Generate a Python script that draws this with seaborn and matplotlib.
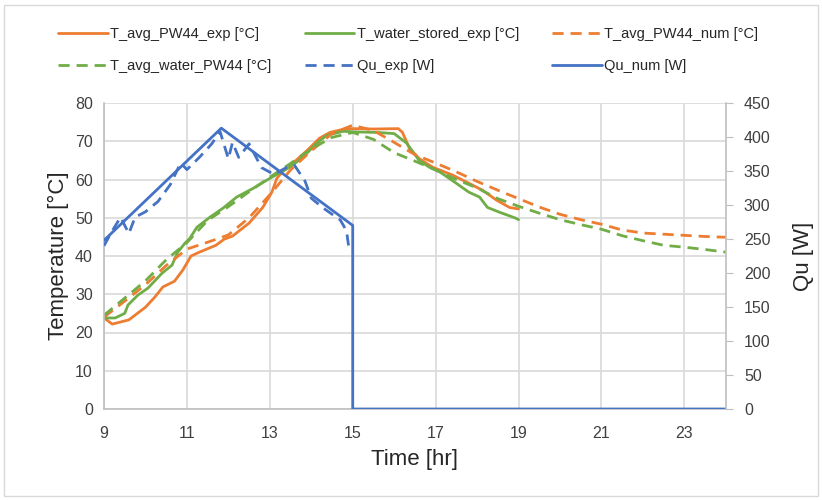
import matplotlib
matplotlib.use('Agg')
import matplotlib.pyplot as plt
import seaborn as sns
from matplotlib.patches import Rectangle

# measured series (hours, deg C)
time_pw44_exp = [9.0, 9.2, 9.6, 10.0, 10.23, 10.42, 10.7, 10.9, 11.1, 11.3, 11.7, 11.9,
                 12.1, 12.5, 12.83, 13.05, 13.17, 13.3, 13.55, 13.9, 14.2, 14.45, 14.76,
                 15.0, 15.5, 16.1, 16.2, 16.37, 16.6, 16.93, 17.4, 17.75, 18.13, 18.47,
                 18.78, 19.0]
t_avg_pw44_exp = [23.8, 22.2, 23.3, 26.6, 29.3, 31.9, 33.4, 36.3, 40.0, 41.0, 42.8, 44.4,
                  45.2, 48.6, 52.7, 56.7, 60.3, 62.0, 64.2, 67.6, 70.8, 72.3, 73.1,
                  73.3, 73.2, 73.3, 72.3, 68.1, 65.5, 63.2, 61.2, 59.3, 57.2, 54.6,
                  52.7, 52.3]

time_water_exp = [9.0, 9.27, 9.5, 9.58, 9.82, 10.06, 10.4, 10.64, 10.78, 10.95, 11.07,
                  11.24, 11.55, 11.87, 12.2, 12.6, 13.0, 13.48, 13.8, 14.13, 14.37, 14.76,
                  15.2, 15.6, 16.0, 16.3, 16.6, 16.85, 17.1, 17.5, 17.8, 18.06, 18.25,
                  18.55, 18.73, 18.93, 19.0]
t_water_stored_exp = [23.8, 23.8, 25.0, 27.2, 29.8, 31.6, 35.5, 37.6, 41.0, 43.3, 44.6,
                      47.5, 50.1, 52.5, 55.4, 57.7, 60.3, 63.2, 65.8, 69.5, 71.5, 72.6,
                      72.4, 72.3, 72.0, 69.5, 65.0, 63.2, 62.0, 59.0, 56.7, 55.4, 52.7,
                      51.4, 50.7, 49.9, 49.5]

# numerical series (half-hour steps)
time_num = [9.0, 9.5, 10.0, 10.5, 11.0, 11.5, 12.0, 12.5, 13.0, 13.5, 14.0, 14.5, 15.0,
            15.5, 16.0, 16.5, 17.0, 17.5, 18.0, 18.5, 19.0, 19.5, 20.0, 20.5, 21.0,
            21.5, 22.0, 22.5, 23.0, 23.5, 24.0]
t_avg_pw44_num = [24.0, 28.2, 32.5, 37.5, 41.8, 43.6, 45.5, 50.0, 56.0, 62.5, 67.5, 72.0,
                  74.2, 72.8, 69.7, 66.5, 64.3, 62.0, 59.5, 57.2, 55.0, 52.8, 50.9, 49.5,
                  48.3, 46.8, 46.0, 45.7, 45.4, 45.1, 44.9]
t_avg_water_pw44 = [24.5, 29.0, 33.5, 39.0, 43.5, 49.3, 52.9, 56.8, 60.6, 64.2, 68.0, 71.0,
                    72.3, 70.5, 67.0, 64.8, 62.5, 60.0, 57.8, 55.0, 53.0, 51.2, 49.5, 48.2,
                    47.0, 45.3, 44.0, 42.8, 42.3, 41.7, 41.0]

# useful heat (W)
time_qu_exp = [9.0, 9.2, 9.4, 9.6, 9.75, 10.0, 10.3, 10.6, 10.85, 11.0, 11.3, 11.6, 11.8,
               12.0, 12.1, 12.25, 12.5, 12.8, 13.1, 13.4, 13.6, 13.85, 14.0, 14.3, 14.7,
               14.85, 14.9]
qu_exp = [240, 262, 282, 258, 282, 290, 305, 330, 362, 352, 370, 390, 408,
          368, 392, 370, 390, 355, 345, 355, 358, 335, 310, 295, 278,
          262, 240]

time_qu_num = [9.0, 11.83, 15.0, 15.0, 24.0]
qu_num = [248, 413, 270, 0, 0]

ORANGE = '#ED7D31'
GREEN = '#70AD47'
BLUE = '#4472C4'
GRID = '#D9D9D9'
DASH = (0, (4, 2.5))

sns.set_style('white')
plt.rcParams['font.family'] = ['Liberation Sans', 'DejaVu Sans']

fig = plt.figure(figsize=(8.22, 5.0), dpi=100)
ax = fig.add_axes([0.1265, 0.182, 0.7565, 0.612])
ax2 = ax.twinx()

lw = 2.0
sns.lineplot(x=time_pw44_exp, y=t_avg_pw44_exp, ax=ax, color=ORANGE, lw=lw,
             estimator=None, sort=False, label='T_avg_PW44_exp [°C]')
sns.lineplot(x=time_water_exp, y=t_water_stored_exp, ax=ax, color=GREEN, lw=lw,
             estimator=None, sort=False, label='T_water_stored_exp [°C]')
sns.lineplot(x=time_num, y=t_avg_pw44_num, ax=ax, color=ORANGE, lw=lw, linestyle=DASH,
             estimator=None, sort=False, label='T_avg_PW44_num [°C]')
sns.lineplot(x=time_num, y=t_avg_water_pw44, ax=ax, color=GREEN, lw=lw, linestyle=DASH,
             estimator=None, sort=False, label='T_avg_water_PW44 [°C]')
sns.lineplot(x=time_qu_exp, y=qu_exp, ax=ax2, color=BLUE, lw=lw, linestyle=DASH,
             estimator=None, sort=False, label='Qu_exp [W]')
sns.lineplot(x=time_qu_num, y=qu_num, ax=ax2, color=BLUE, lw=lw,
             estimator=None, sort=False, label='Qu_num [W]')

ax.set_xlim(9, 24)
ax.set_ylim(0, 80)
ax2.set_ylim(0, 450)
ax.set_xticks(range(9, 24, 2))
ax.set_yticks(range(0, 81, 10))
ax2.set_yticks(range(0, 451, 50))

ax.grid(True, color=GRID, lw=1.2)
ax.set_axisbelow(True)
for a in (ax, ax2):
    for s in a.spines.values():
        s.set_visible(False)
ax.spines['left'].set_visible(True)
ax.spines['bottom'].set_visible(True)
ax2.spines['right'].set_visible(True)
for s in (ax.spines['left'], ax.spines['bottom'], ax2.spines['right']):
    s.set_color('#BFBFBF')
    s.set_linewidth(1.2)

ax.tick_params(axis='both', length=0, labelsize=11.5, colors='#404040', pad=8)
ax.tick_params(axis='x', pad=12)
ax2.tick_params(axis='y', length=5, color='#BFBFBF', labelsize=11.5,
                labelcolor='#404040', pad=8)

ax.set_xlabel('Time [hr]', fontsize=16, labelpad=6)
ax.set_ylabel('Temperature [°C]', fontsize=16, labelpad=4)
ax2.set_ylabel('Qu [W]', fontsize=16, labelpad=16)

h1, l1 = ax.get_legend_handles_labels()
h2, l2 = ax2.get_legend_handles_labels()
ax.get_legend().remove()
ax2.get_legend().remove()
hs = h1 + h2
ls = l1 + l2
order = [0, 3, 1, 4, 2, 5]
fig.legend([hs[i] for i in order], [ls[i] for i in order], ncol=3, frameon=False,
           loc='upper left', bbox_to_anchor=(0.055, 0.972), fontsize=10.5,
           handlelength=3.4, handletextpad=0.15, columnspacing=2.3, labelspacing=1.2)

fig.patches.append(Rectangle((0.005, 0.008), 0.99, 0.982, transform=fig.transFigure,
                             fill=False, edgecolor='#D9D9D9', lw=1))

fig.savefig('out.png', dpi=100)
